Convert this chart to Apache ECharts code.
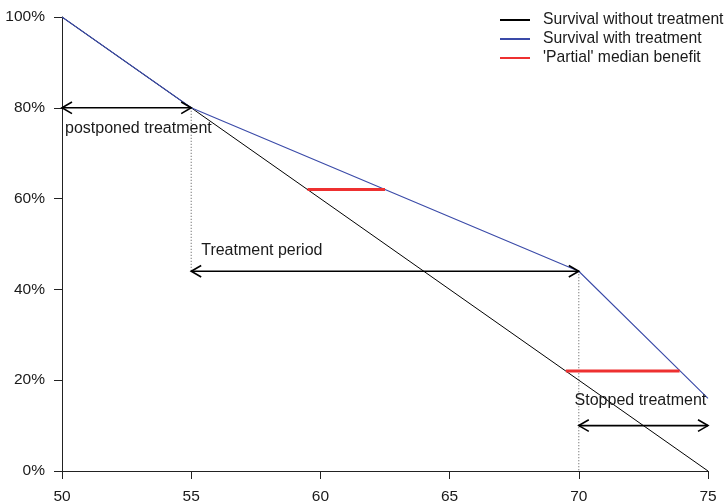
<!DOCTYPE html>
<html>
<head>
<meta charset="utf-8">
<script src="https://cdn.jsdelivr.net/npm/echarts@6/dist/echarts.min.js"></script>
<style>html,body{margin:0;padding:0;background:#fff;}#c{width:727px;height:501px;}</style>
</head>
<body>
<div id="c"></div>
<script>
// ---- data ----
const ages = [50, 55, 70, 75];
const survivalWithout = [100, 80, 20, 0];
const survivalWith = [100, 80, 44, 16];
const benefitY = [62, 22];
const benefitStart = [59.5, 69.5];
const benefitEnd = [62.5, 73.9];
const arrowFrom = [50, 55, 70];
const arrowTo = [55, 70, 75];
const arrowY = [80, 44, 10];
const arrowLabels = ['postponed treatment', 'Treatment period', 'Stopped treatment'];
const guideX = [55, 70];
const guideTop = [80, 44];
const guideBottom = [44, 0];
const xTicks = [50, 55, 60, 65, 70, 75];
const yTicks = [0, 20, 40, 60, 80, 100];

// ---- styling config ----
const FONT = 'Liberation Sans, Arial, sans-serif';
const TXT = '#1a1a1a';
const BLUE = '#3a4aa8';
const RED = '#ee3030';
// label placement relative to the arrow (pixels)
const arrowLabelPlacement = [
  {anchor: 'start', dx: 3, dy: 21, align: 'left'},
  {anchor: 'start', dx: 10, dy: -21, align: 'left'},
  {anchor: 'mid', dx: -3, dy: -25, align: 'center'}
];

const chart = echarts.init(document.getElementById('c'), null, {renderer: 'canvas'});

const benefitSeries = benefitY.map((y, i) => ({
  name: "'Partial' median benefit",
  type: 'line',
  data: [[benefitStart[i], y], [benefitEnd[i], y]],
  symbol: 'none',
  lineStyle: {color: RED, width: 3},
  itemStyle: {color: RED},
  z: 5,
  silent: true
}));

const option = {
  animation: false,
  backgroundColor: '#fff',
  textStyle: {fontFamily: FONT},
  grid: {left: 62, right: 19, top: 17, bottom: 30, containLabel: false, outerBoundsMode: 'none'},
  legend: {
    orient: 'vertical',
    left: 495,
    top: 7,
    itemWidth: 30,
    itemHeight: 2,
    itemGap: 3,
    icon: 'rect',
    textStyle: {fontFamily: FONT, fontSize: 15.7, lineHeight: 16, color: TXT, padding: [0, 0, 0, 8]},
    data: [
      {name: 'Survival without treatment', itemStyle: {color: '#000'}},
      {name: 'Survival with treatment', itemStyle: {color: BLUE}},
      {name: "'Partial' median benefit", itemStyle: {color: RED}}
    ]
  },
  xAxis: {
    type: 'value',
    min: 50, max: 75, interval: 5,
    axisLine: {show: true, lineStyle: {color: '#222', width: 1}},
    axisTick: {show: true, length: 8, lineStyle: {color: '#222'}},
    axisLabel: {fontFamily: FONT, fontSize: 15.5, color: TXT, margin: 18,
      formatter: v => xTicks.includes(v) ? String(v) : ''},
    splitLine: {show: false}
  },
  yAxis: {
    type: 'value',
    min: 0, max: 100, interval: 20,
    axisLine: {show: true, lineStyle: {color: '#222', width: 1}},
    axisTick: {show: true, length: 8, lineStyle: {color: '#222'}},
    axisLabel: {fontFamily: FONT, fontSize: 15.5, color: TXT, margin: 17,
      formatter: v => yTicks.includes(v) ? v + '%' : ''},
    splitLine: {show: false}
  },
  series: [
    {
      name: 'Survival without treatment',
      type: 'line',
      data: ages.map((a, i) => [a, survivalWithout[i]]),
      symbol: 'none',
      lineStyle: {color: '#000', width: 1},
      itemStyle: {color: '#000'},
      z: 3, silent: true
    },
    {
      name: 'Survival with treatment',
      type: 'line',
      data: ages.map((a, i) => [a, survivalWith[i]]),
      symbol: 'none',
      lineStyle: {color: BLUE, width: 1.1},
      itemStyle: {color: BLUE},
      z: 4, silent: true
    },
    ...benefitSeries,
    {
      name: 'guides',
      type: 'custom',
      silent: true,
      z: 2,
      data: guideX.map((x, i) => [x, guideTop[i], guideBottom[i]]),
      encode: {x: 0, y: [1, 2]},
      renderItem: (params, api) => {
        const p1 = api.coord([api.value(0), api.value(1)]);
        const p2 = api.coord([api.value(0), api.value(2)]);
        return {
          type: 'line',
          shape: {x1: p1[0], y1: p1[1], x2: p2[0], y2: p2[1]},
          style: {stroke: '#555', lineWidth: 1, lineDash: [1, 2]}
        };
      }
    },
    {
      name: 'arrows',
      type: 'custom',
      silent: true,
      z: 6,
      data: arrowFrom.map((x, i) => [x, arrowTo[i], arrowY[i]]),
      encode: {x: [0, 1], y: 2},
      renderItem: (params, api) => {
        const i = params.dataIndex;
        const p1 = api.coord([api.value(0), api.value(2)]);
        const p2 = api.coord([api.value(1), api.value(2)]);
        const dx = 10, dy = 5.8;
        const st = {stroke: '#000', lineWidth: 1.6, fill: null};
        const pl = arrowLabelPlacement[i];
        const tx = (pl.anchor === 'mid' ? (p1[0] + p2[0]) / 2 : p1[0]) + pl.dx;
        return {
          type: 'group',
          children: [
            {type: 'line', shape: {x1: p1[0], y1: p1[1], x2: p2[0], y2: p2[1]}, style: st},
            {type: 'polyline', shape: {points: [[p1[0] + dx, p1[1] - dy], p1, [p1[0] + dx, p1[1] + dy]]}, style: st},
            {type: 'polyline', shape: {points: [[p2[0] - dx, p2[1] - dy], p2, [p2[0] - dx, p2[1] + dy]]}, style: st},
            {type: 'text', x: tx, y: p1[1] + pl.dy,
              style: {text: arrowLabels[i], fill: TXT, font: '16px ' + FONT, align: pl.align, verticalAlign: 'middle'}}
          ]
        };
      }
    }
  ]
};
chart.setOption(option);
</script>
</body>
</html>
